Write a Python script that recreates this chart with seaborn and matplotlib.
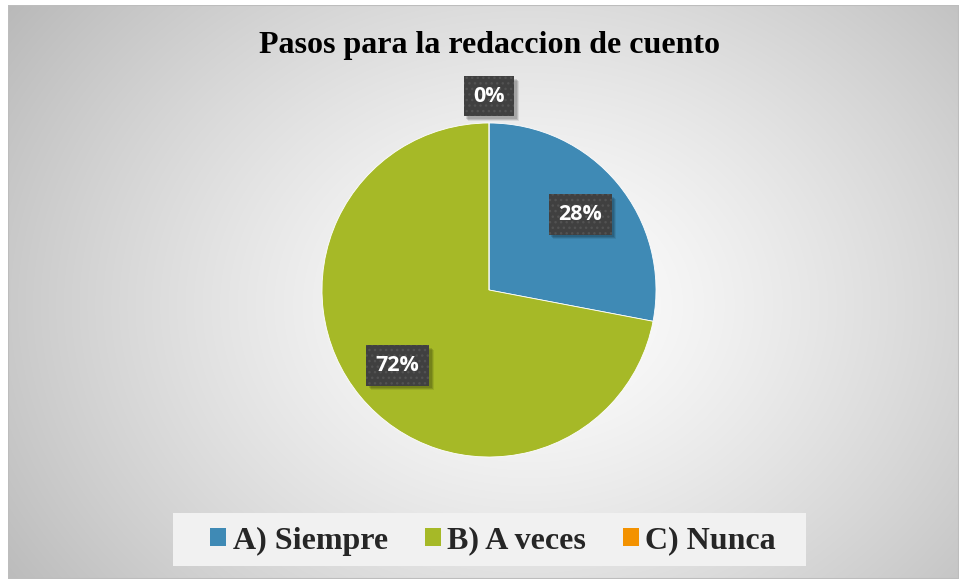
import numpy as np
import matplotlib
matplotlib.use("Agg")
import matplotlib.pyplot as plt
import matplotlib.transforms as mtransforms
from matplotlib.patches import Rectangle
import seaborn as sns

# ---- data ----
title = "Pasos para la redaccion de cuento"
categories = ["A) Siempre", "B) A veces", "C) Nunca"]
values = [28, 72, 0]
labels = ["28%", "72%", "0%"]
colors = ["#3F8AB5", "#A6B927", "#F39200"]

sns.set_theme(style="white")
plt.rcParams['font.family'] = ['DejaVu Sans']
plt.rcParams['hatch.linewidth'] = 1.0

W, H = 959, 579
fig = plt.figure(figsize=(W / 100, H / 100), dpi=100)
fig.patch.set_facecolor("white")

# ---- background gradient ----
bg = fig.add_axes([8 / W, 0, (W - 8) / W, (H - 5) / H])
bg.set_axis_off()
yy, xx = np.mgrid[0:574, 0:951]
cx, cy = 520, 300
r = np.sqrt((xx - cx) ** 2 + ((yy - cy) * 1.25) ** 2) / 560.0
val = 1.0 - 0.23 * np.clip(r, 0, 1.2) ** 1.3
img = np.dstack([val, val, val])
bg.imshow(img, extent=[0, 951, 574, 0], aspect="auto", interpolation="bilinear")
bg.set_xlim(0, 951)
bg.set_ylim(574, 0)
bg.add_patch(Rectangle((0, 0), 951, 574, fill=False, ec="#bdbdbd", lw=1.5))
# legend panel
bg.add_patch(Rectangle((173 - 8, 513 - 5), 633, 53, fc="#F1F1F1", ec="none", zorder=3))

# ---- pie ----
R = 167.0
cxp, cyp = 489, H - 290
half = 200
ax = fig.add_axes([(cxp - half) / W, (cyp - half) / H, 2 * half / W, 2 * half / H])
lim = half / R
wedges, _ = ax.pie(values, colors=colors, startangle=90, counterclock=False,
                   radius=1.0, wedgeprops=dict(edgecolor="white", linewidth=0.6),
                   shadow=False)
ax.set_xlim(-lim, lim)
ax.set_ylim(-lim, lim)
ax.set_aspect("equal")
ax.set_axis_off()

texts = []
for w, lab, v in zip(wedges, labels, values):
    ang = np.deg2rad((w.theta1 + w.theta2) / 2)
    dist = 0.71 if v > 0 else 1.16
    x, y = dist * np.cos(ang), dist * np.sin(ang)
    t = ax.text(x, y, lab, color="white", zorder=5, ha="center", va="center",
                fontsize=15.5, fontweight="bold", family=["Open Sans", "DejaVu Sans"],
                clip_on=False,
                bbox=dict(boxstyle="square,pad=0.45", fc="#404040", ec="#525252",
                          lw=0, hatch="..."))
    texts.append(t)

# soft shadows under label boxes (pixel coordinates, beneath the labels)
fig.canvas.draw()
renderer = fig.canvas.get_renderer()
ident = mtransforms.IdentityTransform()
for t in texts:
    bb = t.get_bbox_patch().get_window_extent(renderer)
    for k, a in ((4.5, 0.08), (3.5, 0.12), (2.5, 0.12)):
        ax.add_patch(Rectangle((bb.x0 + k, bb.y0 - k), bb.width, bb.height,
                               transform=ident, fc="black", ec="none", alpha=a,
                               zorder=4, clip_on=False))

# ---- title ----
fig.text(cxp / W, 1 - 46 / H, title, ha="center", va="center",
         fontsize=23, fontweight="bold", family=["Liberation Serif", "DejaVu Serif"],
         color="black")

# ---- legend ----
handles = [Rectangle((0, 0), 1, 1, fc=c, ec="none") for c in colors]
leg = fig.legend(handles, categories, loc="center", bbox_to_anchor=(493 / W, 38 / H),
                 ncol=3, frameon=False, handlelength=0.5, handleheight=0.5,
                 handletextpad=0.2, columnspacing=1.15, borderpad=0.2,
                 prop=dict(family=["Liberation Serif", "DejaVu Serif"], weight="bold", size=23))

fig.savefig("out.png", dpi=100)
